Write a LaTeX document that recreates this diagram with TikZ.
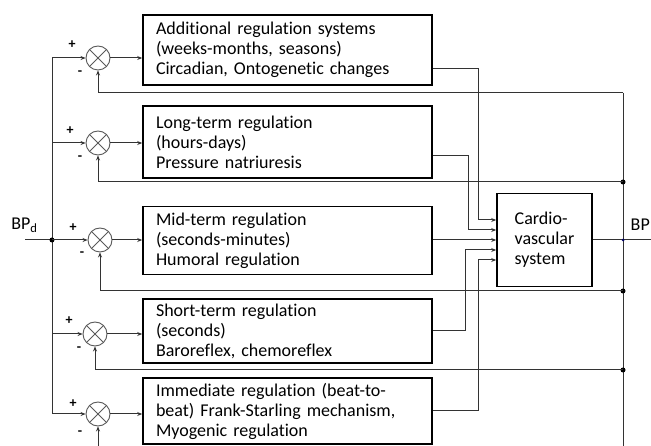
\documentclass[tikz,border=0pt]{standalone}
\usepackage{fontspec}
\setmainfont{Carlito}[Ligatures=NoCommon]
\usetikzlibrary{arrows.meta,positioning}

\begin{document}
\begin{tikzpicture}[%
	x=1pt, y=-1pt,
	>={Stealth[length=5pt,width=4pt]},
	font=\fontsize{18}{20}\selectfont,
	reg/.style={draw, line width=1.6pt, minimum width=289pt, text width=263pt, align=left, inner sep=0pt},
	cv/.style={draw, line width=1.6pt, minimum width=95pt, minimum height=93pt, align=left},
	summ/.style={draw=black!65, line width=0.9pt, circle, minimum size=24pt, inner sep=0pt,
		path picture={\draw[black!65, line width=0.9pt]
			(path picture bounding box.north west) -- (path picture bounding box.south east)
			(path picture bounding box.south west) -- (path picture bounding box.north east);}},
	sgn/.style={font=\fontsize{14}{14}\selectfont\bfseries, inner sep=0pt},
	wire/.style={draw=black!80, line width=1pt},
	arr/.style={wire,->},
	dot/.style={circle, fill=black, inner sep=0pt, minimum size=5pt}
]
\useasboundingbox (0,0) rectangle (651,446);

% regulation blocks
\node[reg, minimum height=70pt] (add)   at (287.5,50)    {Additional regulation systems\\(weeks-months, seasons)\\Circadian, Ontogenetic changes};
\node[reg, minimum height=72pt] (long)  at (287.5,142)   {Long-term regulation\\(hours-days)\\Pressure natriuresis};
\node[reg, minimum height=68pt] (mid)   at (287.5,240.5) {Mid-term regulation\\(seconds-minutes)\\Humoral regulation};
\node[reg, minimum height=64pt] (short) at (287.5,331)   {Short-term regulation\\(seconds)\\Baroreflex, chemoreflex};
\node[reg, minimum height=66pt] (imm)   at (287.5,411)   {Immediate regulation (beat-to-\\beat) Frank-Starling mechanism,\\Myogenic regulation};

\node[cv] (cvs) at (544.5,240) {Cardio-\\vascular\\system};

% comparators
\node[summ] (s1) at (98,58)  {};
\node[summ] (s2) at (98,143) {};
\node[summ] (s3) at (100,240) {};
\node[summ] (s4) at (95,334) {};
\node[summ] (s5) at (98,414) {};

\node[sgn] (p1) at ([shift={(-26,-13)}]s1.center) {+};
\node[sgn] (m1) at ([shift={(-18,15)}]s1.center)  {-};
\node[sgn] (p2) at ([shift={(-28,-12)}]s2.center) {+};
\node[sgn] (m2) at ([shift={(-18,15)}]s2.center)  {-};
\node[sgn] (p3) at ([shift={(-27,-12)}]s3.center) {+};
\node[sgn] (m3) at ([shift={(-18,14)}]s3.center)  {-};
\node[sgn] (p4) at ([shift={(-26,-13)}]s4.center) {+};
\node[sgn] (m4) at ([shift={(-16,15)}]s4.center)  {-};
\node[sgn] (p5) at ([shift={(-25,-10)}]s5.center) {+};
\node[sgn] (m5) at ([shift={(-18,19)}]s5.center)  {-};

% input
\node (bpd) at (24.5,225) {BP\textsubscript{d}};
\coordinate (in) at (25,240);
\coordinate (split) at (52,240);
\path[wire] (in) -- (split);
\path[wire] (split |- s1) -- (split |- s5);
\node[dot] at (split) {};
\path[arr] (split |- s1) -- (s1);
\path[arr] (split |- s2) -- (s2);
\path[arr] (split |- s3) -- (s3);
\path[arr] (split |- s4) -- (s4);
\path[arr] (split |- s5) -- (s5);

\path[arr] (s1) -- (s1 -| add.west);
\path[arr] (s2) -- (s2 -| long.west);
\path[arr] (s3) -- (s3 -| mid.west);
\path[arr] (s4) -- (s4 -| short.west);
\path[arr] (s5) -- (s5 -| imm.west);

% into the cardiovascular system
\coordinate (in1) at ([shift={(0,-20)}]cvs.west);
\coordinate (in2) at ([shift={(0,-10)}]cvs.west);
\coordinate (in3) at (cvs.west);
\coordinate (in4) at ([shift={(0,10)}]cvs.west);
\coordinate (in5) at ([shift={(0,20)}]cvs.west);

\path[arr] ([shift={(0,19)}]add.east) -| ([shift={(-18,0)}]in1) -- (in1);
\path[arr] ([shift={(0,14)}]long.east) -| ([shift={(-28,0)}]in2) -- (in2);
\path[arr] (mid.east |- in3) -- (in3);
\path[arr] (short.east) -| ([shift={(-31,0)}]in4) -- (in4);
\path[arr] (imm.east) -| ([shift={(-18,0)}]in5) -- (in5);

% output and feedback
\coordinate (j1) at (623,93);
\coordinate (j2) at (623,182);
\coordinate (j3) at (623,291);
\coordinate (j4) at (623,370);
\coordinate (bot) at (623,446);
\coordinate (out) at (660,240);
\coordinate (f5) at (98,446);

\path[wire] (cvs.east) -- (out);
\node (bpo) [anchor=east, inner xsep=1pt] at (651,225) {BP};
\path[wire] (j1) -- (bot);
\node[circle, fill=blue!40!black, inner sep=0pt, minimum size=3pt] at (cvs.east -| j1) {};
\node[dot] at (j2) {};
\node[dot] at (j3) {};
\node[dot] at (j4) {};

\path[arr] (j1) -| (s1);
\path[arr] (j2) -| (s2);
\path[arr] (j3) -| (s3);
\path[arr] (j4) -| (s4);
\path[arr] (f5) -- (s5);

\end{tikzpicture}
\end{document}
